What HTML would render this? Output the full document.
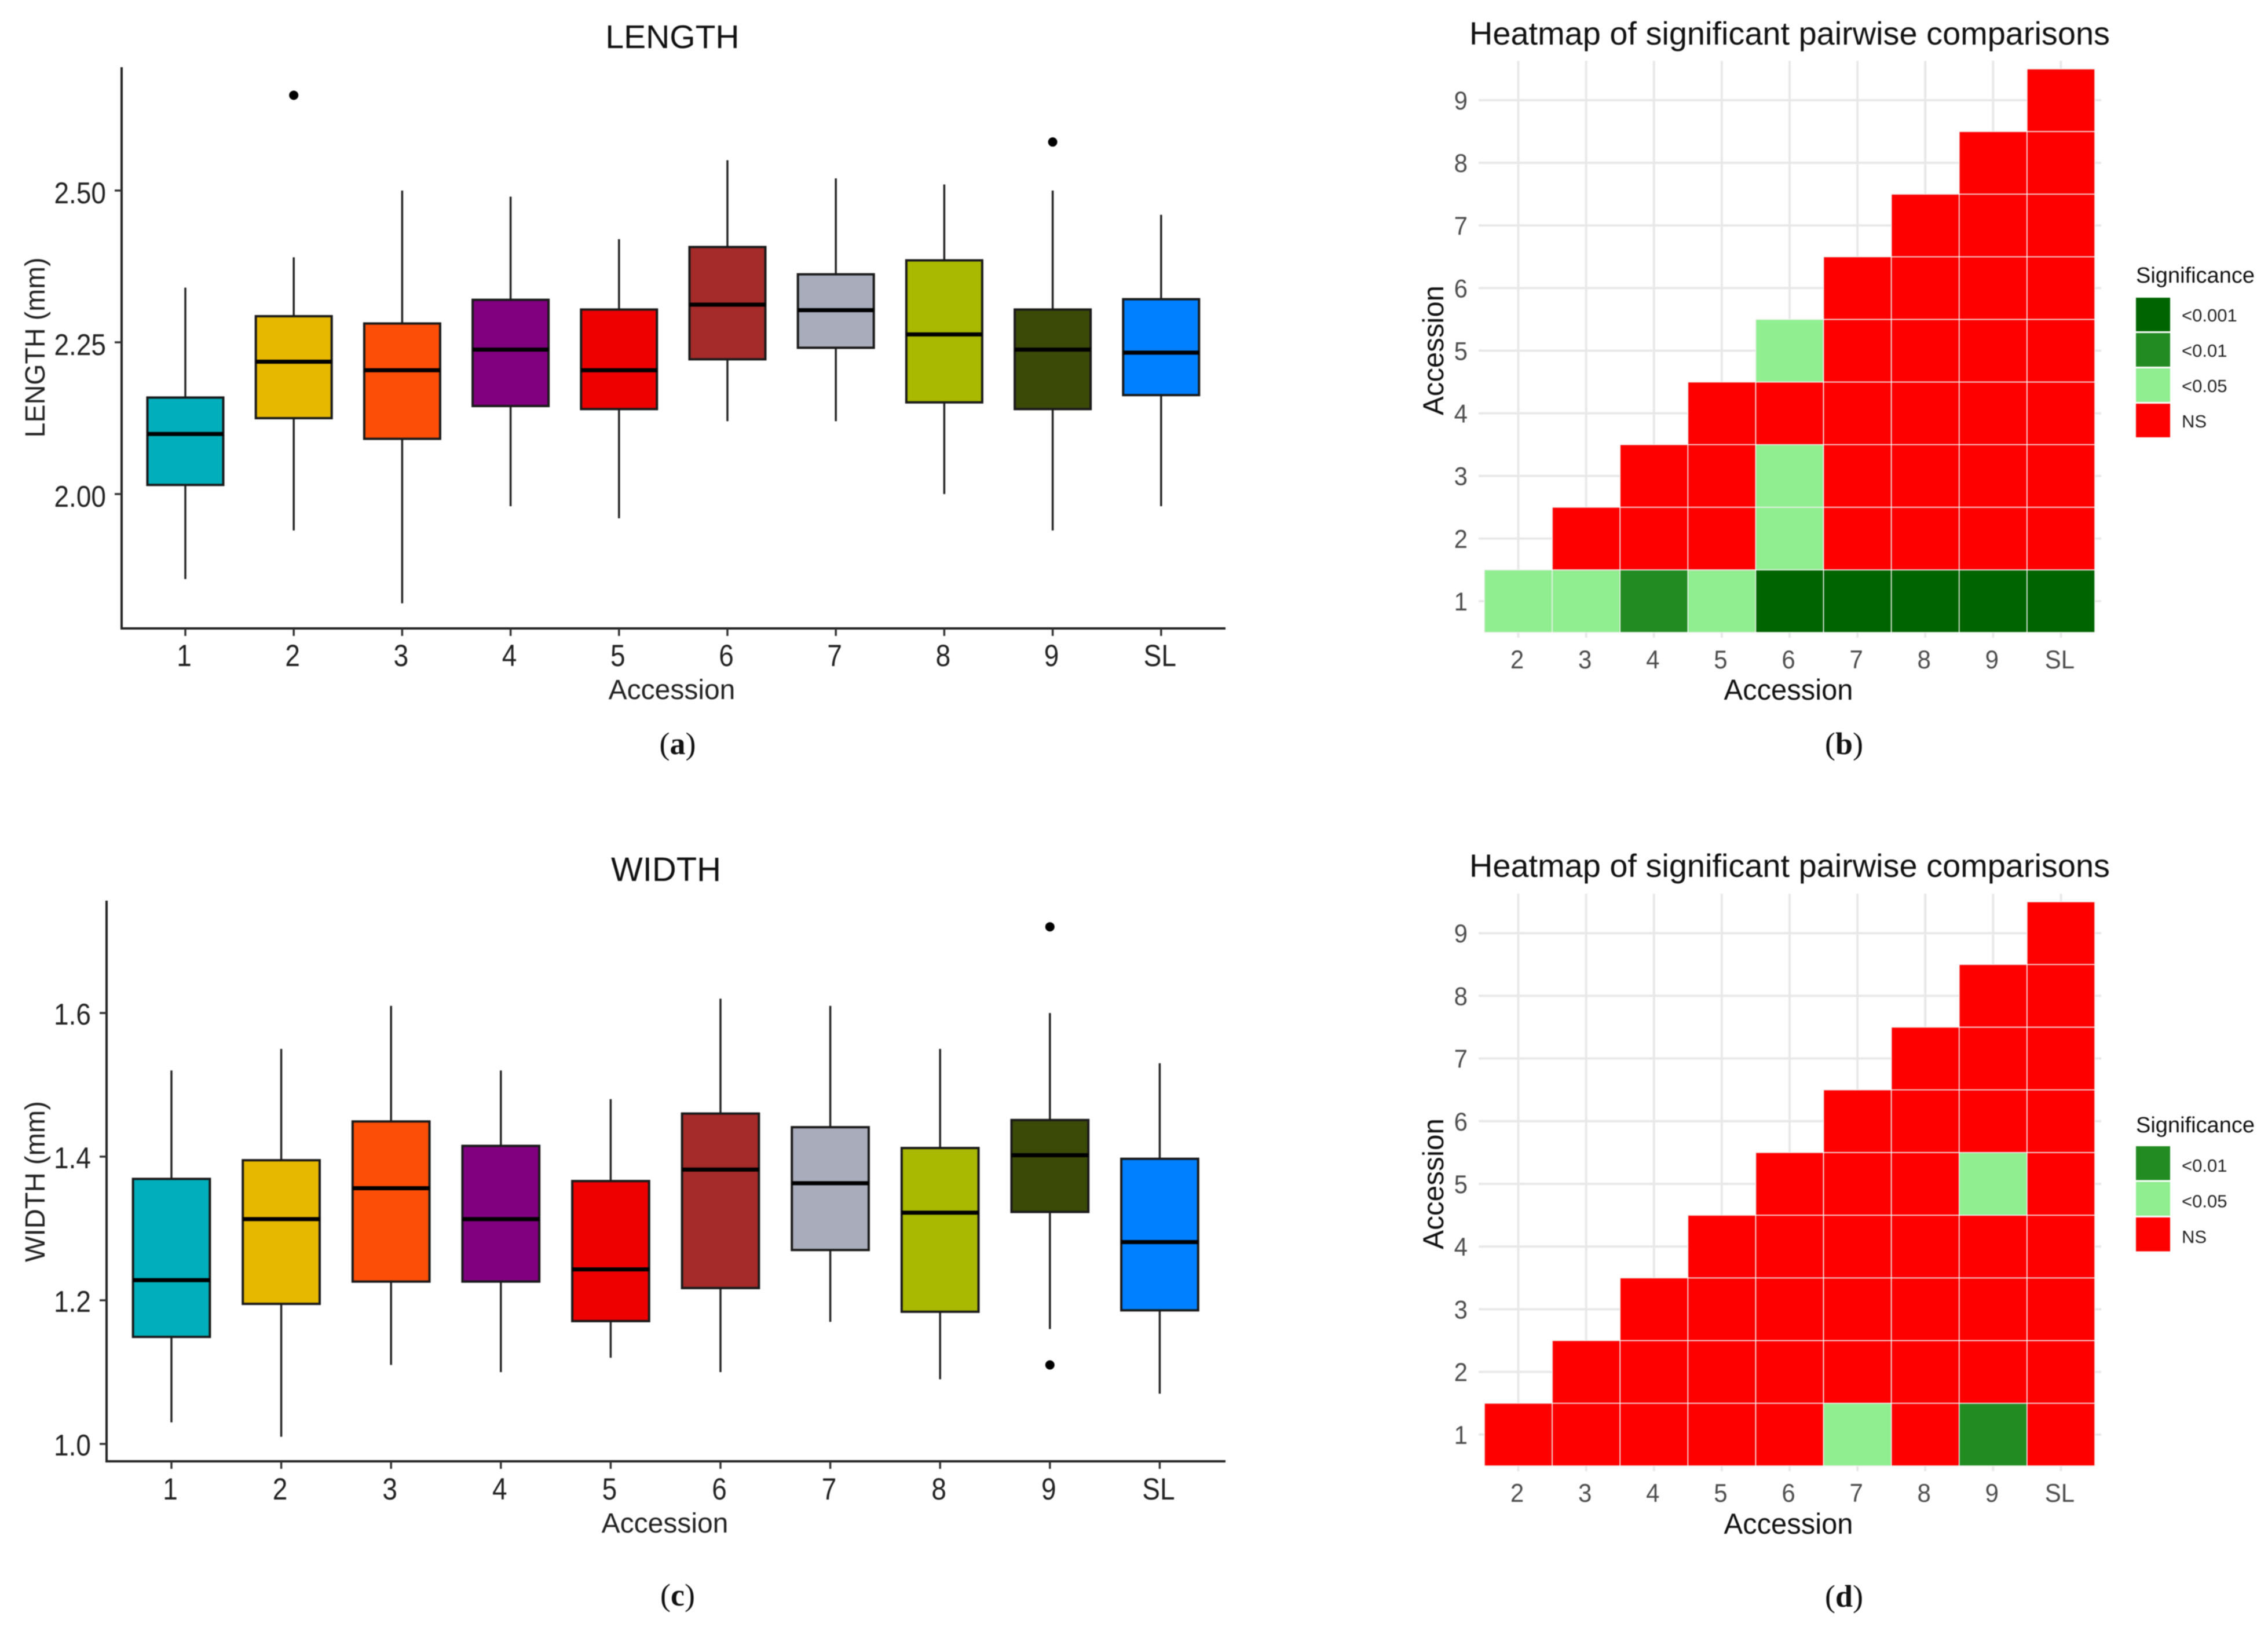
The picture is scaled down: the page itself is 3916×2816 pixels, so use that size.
<!DOCTYPE html>
<html lang="en">
<head>
<meta charset="utf-8">
<title>Seed length and width boxplots with pairwise significance heatmaps</title>
<style>
html,body{margin:0;padding:0;background:#fff;width:3916px;height:2816px;overflow:hidden}
svg{display:block;filter:blur(0.8px)}
text{font-family:"Liberation Sans",sans-serif}
.serif{font-family:"Liberation Serif",serif;font-size:54px;fill:#111}
</style>
</head>
<body>
<svg id="figure" xmlns="http://www.w3.org/2000/svg" width="3916" height="2816" viewBox="0 0 3916 2816">
<rect x="0" y="0" width="3916" height="2816" fill="#ffffff"/>

<g id="panel-a">
  <text x="1161" y="83" font-size="57" fill="#111" text-anchor="middle">LENGTH</text>
  <text transform="translate(77,600) rotate(-90)" font-size="48" fill="#222" text-anchor="middle" textLength="311" lengthAdjust="spacingAndGlyphs">LENGTH (mm)</text>
  <text x="1160" y="1207" font-size="48" fill="#222" text-anchor="middle">Accession</text>
  <line x1="210" y1="116" x2="210" y2="1086" stroke="#222" stroke-width="4"/>
  <line x1="208" y1="1085" x2="2116" y2="1085" stroke="#222" stroke-width="4"/>
</g>
<text class="serif" x="1170" y="1302" text-anchor="middle">(<tspan font-weight="bold">a</tspan>)</text>

<g id="panel-b">
  <text x="2537" y="77" font-size="56" fill="#111" textLength="1106" lengthAdjust="spacingAndGlyphs">Heatmap of significant pairwise comparisons</text>
  <text transform="translate(2492,605) rotate(-90)" font-size="50" fill="#111" text-anchor="middle" textLength="224" lengthAdjust="spacingAndGlyphs">Accession</text>
  <text x="3088" y="1208" font-size="50" fill="#111" text-anchor="middle" textLength="223" lengthAdjust="spacingAndGlyphs">Accession</text>
  <text x="3688" y="488" font-size="38" fill="#111" textLength="205" lengthAdjust="spacingAndGlyphs">Significance</text>
</g>
<text class="serif" x="3184" y="1302" text-anchor="middle">(<tspan font-weight="bold">b</tspan>)</text>

<g id="panel-c">
  <text x="1150" y="1521" font-size="58" fill="#111" text-anchor="middle">WIDTH</text>
  <text transform="translate(77,2040) rotate(-90)" font-size="48" fill="#222" text-anchor="middle" textLength="278" lengthAdjust="spacingAndGlyphs">WIDTH (mm)</text>
  <text x="1148" y="2646" font-size="48" fill="#222" text-anchor="middle">Accession</text>
  <line x1="184" y1="1555" x2="184" y2="2524" stroke="#222" stroke-width="4"/>
  <line x1="182" y1="2523" x2="2116" y2="2523" stroke="#222" stroke-width="4"/>
</g>
<text class="serif" x="1170" y="2772" text-anchor="middle">(<tspan font-weight="bold">c</tspan>)</text>

<g id="panel-d">
  <text x="2537" y="1514" font-size="56" fill="#111" textLength="1106" lengthAdjust="spacingAndGlyphs">Heatmap of significant pairwise comparisons</text>
  <text transform="translate(2492,2044) rotate(-90)" font-size="50" fill="#111" text-anchor="middle" textLength="226" lengthAdjust="spacingAndGlyphs">Accession</text>
  <text x="3088" y="2648" font-size="50" fill="#111" text-anchor="middle" textLength="223" lengthAdjust="spacingAndGlyphs">Accession</text>
  <text x="3688" y="1955" font-size="38" fill="#111" textLength="205" lengthAdjust="spacingAndGlyphs">Significance</text>
</g>
<text class="serif" x="3184" y="2774" text-anchor="middle">(<tspan font-weight="bold">d</tspan>)</text>
</svg>

<script>
const boxCategories = ['1','2','3','4','5','6','7','8','9','SL'];
const boxFills = ['#00AFBB','#E7B800','#FC4E07','#800080','#EE0000','#A52A2A','#A9ADBB','#A9B800','#3B4A07','#0080FF'];

const lengthWhiskerHigh = [2.34,2.39,2.50,2.49,2.42,2.55,2.52,2.51,2.50,2.46];
const lengthQ3 = [2.159,2.293,2.281,2.32,2.304,2.407,2.362,2.385,2.304,2.321];
const lengthMedian = [2.099,2.218,2.204,2.238,2.204,2.312,2.303,2.263,2.238,2.233];
const lengthQ1 = [2.015,2.125,2.091,2.145,2.14,2.222,2.241,2.151,2.14,2.163];
const lengthWhiskerLow = [1.86,1.94,1.82,1.98,1.96,2.12,2.12,2.00,1.94,1.98];
const lengthOutliers = [[],[2.657],[],[],[],[],[],[],[2.58],[]];
const lengthTickValues = [2.0,2.25,2.5];
const lengthTickLabels = ['2.00','2.25','2.50'];

const widthWhiskerHigh = [1.52,1.55,1.61,1.52,1.48,1.62,1.61,1.55,1.60,1.53];
const widthQ3 = [1.369,1.395,1.449,1.415,1.366,1.46,1.441,1.412,1.451,1.397];
const widthMedian = [1.228,1.313,1.356,1.313,1.243,1.382,1.363,1.322,1.402,1.281];
const widthQ1 = [1.149,1.195,1.226,1.226,1.171,1.217,1.27,1.184,1.323,1.186];
const widthWhiskerLow = [1.03,1.01,1.11,1.10,1.12,1.10,1.17,1.09,1.16,1.07];
const widthOutliers = [[],[],[],[],[],[],[],[],[1.72,1.11],[]];
const widthTickValues = [1.0,1.2,1.4,1.6];
const widthTickLabels = ['1.0','1.2','1.4','1.6'];

const heatColumns = ['2','3','4','5','6','7','8','9','SL'];
const heatRows = ['1','2','3','4','5','6','7','8','9'];
const legendLevels = ['<0.001','<0.01','<0.05','NS'];
const legendFills = ['#006400','#228B22','#90EE90','#FF0000'];

/* level per row (accession 1..9) and column (2..SL); '' = no comparison drawn */
const lengthSignificance = [
  ['<0.05','<0.05','<0.01','<0.05','<0.001','<0.001','<0.001','<0.001','<0.001'],
  ['','NS','NS','NS','<0.05','NS','NS','NS','NS'],
  ['','','NS','NS','<0.05','NS','NS','NS','NS'],
  ['','','','NS','NS','NS','NS','NS','NS'],
  ['','','','','<0.05','NS','NS','NS','NS'],
  ['','','','','','NS','NS','NS','NS'],
  ['','','','','','','NS','NS','NS'],
  ['','','','','','','','NS','NS'],
  ['','','','','','','','','NS']
];
const widthSignificance = [
  ['NS','NS','NS','NS','NS','<0.05','NS','<0.01','NS'],
  ['','NS','NS','NS','NS','NS','NS','NS','NS'],
  ['','','NS','NS','NS','NS','NS','NS','NS'],
  ['','','','NS','NS','NS','NS','NS','NS'],
  ['','','','','NS','NS','NS','<0.05','NS'],
  ['','','','','','NS','NS','NS','NS'],
  ['','','','','','','NS','NS','NS'],
  ['','','','','','','','NS','NS'],
  ['','','','','','','','','NS']
];
const lengthLegendLevels = ['<0.001','<0.01','<0.05','NS'];
const widthLegendLevels = ['<0.01','<0.05','NS'];

const SVG_NS = 'http://www.w3.org/2000/svg';

function makeLine(parent, name, x1, y1, x2, y2, stroke, width) {
  const el = document.createElementNS(SVG_NS, 'line');
  
  
  el.setAttribute('x1', x1);
  el.setAttribute('y1', y1);
  el.setAttribute('x2', x2);
  el.setAttribute('y2', y2);
  el.setAttribute('stroke', stroke);
  el.setAttribute('stroke-width', width);
  parent.appendChild(el);
  return el;
}

function makeRect(parent, name, x, y, w, h, fill, stroke, strokeWidth) {
  const el = document.createElementNS(SVG_NS, 'rect');
  
  
  el.setAttribute('x', x);
  el.setAttribute('y', y);
  el.setAttribute('width', w);
  el.setAttribute('height', h);
  el.setAttribute('fill', fill);
  el.setAttribute('stroke', stroke);
  el.setAttribute('stroke-width', strokeWidth);
  parent.appendChild(el);
  return el;
}

function makeText(parent, name, content, x, y, size, fill, anchor, stretch) {
  const el = document.createElementNS(SVG_NS, 'text');
  
  
  el.setAttribute('transform', 'translate(' + x + ',' + y + ') scale(1,' + stretch + ')');
  el.setAttribute('font-size', size);
  el.setAttribute('fill', fill);
  el.setAttribute('text-anchor', anchor);
  el.textContent = content;
  parent.appendChild(el);
  return el;
}

function drawBoxPanel(panelId, prefix, s, d) {
  const panel = document.getElementById(panelId);
  const xScale = function (i) { return s.x0 + i * s.dx; };
  const yScale = function (v) { return s.yBase - (v - s.vBase) * s.pxPerUnit; };
  const boxW = s.dx * 0.7;

  d.tickValues.forEach(function (v, i) {
    makeLine(panel, prefix + '-y-tick', s.axisX - 12, yScale(v), s.axisX, yScale(v), '#333', 3.5);
    makeText(panel, prefix + '-y-tick-label', d.tickLabels[i], s.axisX - 27, yScale(v) + s.yLabelDy, 46, '#222', 'end', 1.12);
  });

  boxCategories.forEach(function (cat, i) {
    const x = xScale(i);
    makeLine(panel, prefix + '-x-tick', x, s.axisY, x, s.axisY + 13, '#333', 3.5);
    makeText(panel, prefix + '-x-tick-label', cat, x - 2, s.xLabelY, 46, '#222', 'middle', 1.15);
    makeLine(panel, prefix + '-whisker-upper-' + cat, x, yScale(d.high[i]), x, yScale(d.q3[i]), '#222', 3.5);
    makeLine(panel, prefix + '-whisker-lower-' + cat, x, yScale(d.q1[i]), x, yScale(d.low[i]), '#222', 3.5);
    makeRect(panel, prefix + '-box-' + cat, x - boxW / 2, yScale(d.q3[i]), boxW, yScale(d.q1[i]) - yScale(d.q3[i]), boxFills[i], '#1a1a1a', 4);
    makeLine(panel, prefix + '-median-' + cat, x - boxW / 2, yScale(d.median[i]), x + boxW / 2, yScale(d.median[i]), '#000', 7);
    d.outliers[i].forEach(function (v) {
      const dot = document.createElementNS(SVG_NS, 'circle');
      
      
      dot.setAttribute('cx', x);
      dot.setAttribute('cy', yScale(v));
      dot.setAttribute('r', 8);
      dot.setAttribute('fill', '#000');
      panel.appendChild(dot);
    });
  });
}

function drawHeatPanel(panelId, prefix, s, matrix, legendKeys) {
  const panel = document.getElementById(panelId);
  const cellW = (s.right - s.left) / heatColumns.length;
  const cellH = (s.bottom - s.top) / heatRows.length;
  const xScale = function (i) { return s.left + (i + 0.5) * cellW; };
  const yScale = function (r) { return s.bottom - (r + 0.5) * cellH; };

  heatColumns.forEach(function (col, i) {
    makeLine(panel, prefix + '-gridline-x', xScale(i), s.top - 14, xScale(i), s.bottom + 9, '#e8e8e8', 4);
    makeText(panel, prefix + '-x-tick-label', col, xScale(i) - 2, s.xLabelY, 42, '#4d4d4d', 'middle', 1.05);
  });
  heatRows.forEach(function (row, r) {
    makeLine(panel, prefix + '-gridline-y', s.left - 10, yScale(r), s.right + 11, yScale(r), '#e8e8e8', 4);
    makeText(panel, prefix + '-y-tick-label', row, 2534, yScale(r) + 16, 42, '#4d4d4d', 'end', 1.05);
  });

  matrix.forEach(function (levels, r) {
    levels.forEach(function (level, c) {
      if (!level) return;
      const fill = legendFills[legendLevels.indexOf(level)];
      makeRect(panel, prefix + '-cell-' + heatRows[r] + '-' + heatColumns[c], s.left + c * cellW, s.bottom - (r + 1) * cellH, cellW, cellH, fill, '#f2f2f2', 1.6);
    });
  });

  legendKeys.forEach(function (level, i) {
    const y = s.legendY + i * s.legendStep;
    const fill = legendFills[legendLevels.indexOf(level)];
    makeRect(panel, prefix + '-legend-swatch-' + i, 3688, y, 59, s.legendStep - 3, fill, 'none', 0);
    makeText(panel, prefix + '-legend-label-' + i, level, 3767, y + s.legendTextDy, 31, '#222', 'start', 1);
  });
}

drawBoxPanel('panel-a', 'length',
  { x0: 320, dx: 187.2, yBase: 853, vBase: 2, pxPerUnit: 1048, axisX: 210, axisY: 1085, xLabelY: 1150, yLabelDy: 22 },
  { high: lengthWhiskerHigh, q3: lengthQ3, median: lengthMedian, q1: lengthQ1, low: lengthWhiskerLow, outliers: lengthOutliers, tickValues: lengthTickValues, tickLabels: lengthTickLabels });

drawBoxPanel('panel-c', 'width',
  { x0: 296, dx: 189.6, yBase: 2493, vBase: 1, pxPerUnit: 1240, axisX: 184, axisY: 2523, xLabelY: 2589, yLabelDy: 20 },
  { high: widthWhiskerHigh, q3: widthQ3, median: widthMedian, q1: widthQ1, low: widthWhiskerLow, outliers: widthOutliers, tickValues: widthTickValues, tickLabels: widthTickLabels });

drawHeatPanel('panel-b', 'length-heatmap',
  { left: 2563, right: 3617, top: 119, bottom: 1092, xLabelY: 1154, legendY: 514, legendStep: 61, legendTextDy: 41 },
  lengthSignificance, lengthLegendLevels);

drawHeatPanel('panel-d', 'width-heatmap',
  { left: 2563, right: 3617, top: 1557, bottom: 2531, xLabelY: 2593, legendY: 1979, legendStep: 61.5, legendTextDy: 44 },
  widthSignificance, widthLegendLevels);
</script>
</body>
</html>
